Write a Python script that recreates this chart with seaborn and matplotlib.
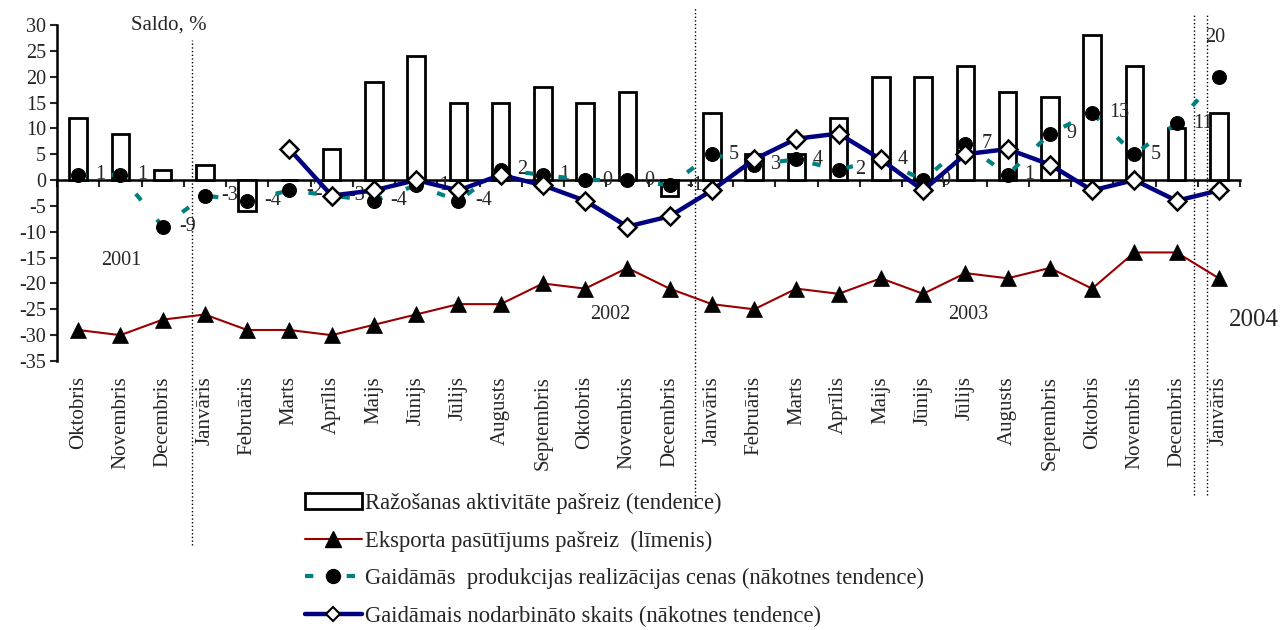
import numpy as np
import pandas as pd
import matplotlib.pyplot as plt
import matplotlib.lines as mlines
import matplotlib.patches as mpatches
import seaborn as sns

# Oktobris 2001 .. Janvaris 2004
months = ['Oktobris', 'Novembris', 'Decembris',
          'Janvāris', 'Februāris', 'Marts', 'Aprīlis', 'Maijs', 'Jūnijs',
          'Jūlijs', 'Augusts', 'Septembris', 'Oktobris', 'Novembris', 'Decembris',
          'Janvāris', 'Februāris', 'Marts', 'Aprīlis', 'Maijs', 'Jūnijs',
          'Jūlijs', 'Augusts', 'Septembris', 'Oktobris', 'Novembris', 'Decembris',
          'Janvāris']
activity = [12, 9, 2, 3, -6, 0, 6, 19, 24, 15, 15, 18, 15, 17, -3,
            13, 5, 5, 12, 20, 20, 22, 17, 16, 28, 22, 10, 13]
export = [-29, -30, -27, -26, -29, -29, -30, -28, -26, -24, -24, -20, -21, -17, -21,
          -24, -25, -21, -22, -19, -22, -18, -19, -17, -21, -14, -14, -19]
prices = [1, 1, -9, -3, -4, -2, -3, -4, -1, -4, 2, 1, 0, 0, -1,
          5, 3, 4, 2, 4, 0, 7, 1, 9, 13, 5, 11, 20]
employment = [np.nan] * 5 + [6, -3, -2, 0, -2, 1, -1, -4, -9, -7,
                             -2, 4, 8, 9, 4, -2, 5, 6, 3, -2, 0, -4, -2]

lab_act = 'Ražošanas aktivitāte pašreiz (tendence)'
lab_exp = 'Eksporta pasūtījums pašreiz  (līmenis)'
lab_pri = 'Gaidāmās  produkcijas realizācijas cenas (nākotnes tendence)'
lab_emp = 'Gaidāmais nodarbināto skaits (nākotnes tendence)'

df = pd.DataFrame({'pos': np.arange(len(months)), 'activity': activity,
                   'export': export, 'prices': prices, 'employment': employment})

sns.set_theme(style='white')
plt.rcParams['font.family'] = ['Liberation Serif', 'DejaVu Serif']
plt.rcParams['axes.unicode_minus'] = False

fig = plt.figure(figsize=(12.83, 6.30), dpi=100)
ax = fig.add_axes([57 / 1283, 1 - 361 / 630, 1183 / 1283, 336 / 630])

dash = (0, (2, 6))

sns.barplot(data=df, x='pos', y='activity', native_scale=True, width=0.42,
            color='white', edgecolor='black', linewidth=2, saturation=1,
            errorbar=None, ax=ax, zorder=2)
sns.lineplot(data=df, x='pos', y='export', ax=ax, color='#990000', lw=1.5,
             marker='^', markersize=11, markerfacecolor='black',
             markeredgecolor='black', markeredgewidth=0.5, zorder=3)
sns.lineplot(data=df, x='pos', y='prices', ax=ax, color='#008080', lw=3,
             linestyle=dash, marker='o', markersize=10,
             markerfacecolor='black', markeredgecolor='black', zorder=4)
sns.lineplot(data=df.dropna(), x='pos', y='employment', ax=ax, color='#000080',
             lw=3.2, marker='D', markersize=9.3, markerfacecolor='white',
             markeredgecolor='black', markeredgewidth=1.8, zorder=5)

# value labels for price series
for i, v in enumerate(prices):
    if i == len(prices) - 1:
        ax.annotate(str(v), (i, v), xytext=(-3, 28), textcoords='offset points',
                    ha='center', va='center', fontsize=14.5, zorder=3.5)
    else:
        ax.annotate(str(v), (i, v), xytext=(12, 0), textcoords='offset points',
                    ha='left', va='center', fontsize=14.5, zorder=3.5)

ax.set_xlim(-0.5, 27.5)
ax.set_ylim(-35, 30)
ax.set_yticks(range(-35, 31, 5))
ax.set_xticks(df['pos'])
ax.set_xticklabels(months, rotation=90, fontsize=15)
ax.tick_params(axis='x', length=0, pad=11)
ax.tick_params(axis='y', direction='out', length=5, width=1.5, labelsize=14.5,
               left=True, pad=3)
ax.set_xlabel('')
ax.set_ylabel('')
for s in ['top', 'right', 'bottom']:
    ax.spines[s].set_visible(False)
ax.spines['left'].set_linewidth(1.8)
ax.spines['left'].set_color('black')

# zero line with ticks between months
sec = ax.secondary_xaxis(35 / 65)
sec.set_xticks(np.arange(-0.5, 28, 1))
sec.set_xticklabels([])
sec.xaxis.set_ticks_position('bottom')
sec.tick_params(axis='x', which='both', direction='out', length=5, width=1.5,
                bottom=True, top=False, labelbottom=False, labeltop=False)
for s in ['top', 'bottom']:
    sec.spines[s].set_linewidth(1.8)
    sec.spines[s].set_color('black')

# year separators
for x, y0, y1 in [(2.7, -0.548, 0.955), (14.61, -0.435, 1.05),
                  (26.41, -0.399, 1.03), (26.71, -0.399, 1.03)]:
    ax.axvline(x, ymin=y0, ymax=y1, color='black', lw=1, ls=':', clip_on=False)

ax.text(2.15, 30, 'Saldo, %', ha='center', va='center', fontsize=15)
ax.text(1.02, -15.5, '2001', ha='center', va='center', fontsize=14.5)
ax.text(12.6, -26, '2002', ha='center', va='center', fontsize=14.5)
ax.text(21.06, -26, '2003', ha='center', va='center', fontsize=14.5)
ax.text(27.83, -27, '2004', ha='center', va='center', fontsize=18, clip_on=False)

handles = [
    mpatches.Patch(facecolor='white', edgecolor='black', linewidth=2),
    mlines.Line2D([], [], color='#990000', lw=1.5, marker='^', markersize=11,
                  markerfacecolor='black', markeredgecolor='black'),
    mlines.Line2D([], [], color='#008080', lw=3, linestyle=(0, (2, 3)), marker='o',
                  markersize=10, markerfacecolor='black', markeredgecolor='black'),
    mlines.Line2D([], [], color='#000080', lw=3.2, marker='D', markersize=7,
                  markerfacecolor='white', markeredgecolor='black', markeredgewidth=1.5),
]
fig.legend(handles, [lab_act, lab_exp, lab_pri, lab_emp], loc='upper left',
           bbox_to_anchor=(305 / 1283, 1 - 493 / 630), frameon=False, fontsize=16.3,
           handlelength=2.5, handletextpad=0.15, labelspacing=0.72, borderpad=0,
           borderaxespad=0)

fig.savefig('out.png', dpi=100)
